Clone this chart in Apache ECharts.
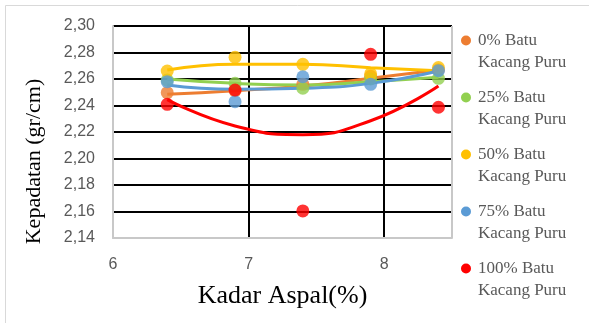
<!DOCTYPE html>
<html>
<head>
<meta charset="utf-8">
<script src="https://cdn.jsdelivr.net/npm/echarts@6/dist/echarts.min.js"></script>
<style>
  html, body { margin: 0; padding: 0; background: #fff; }
  #main { width: 589px; height: 323px; }
</style>
</head>
<body>
<div id="main"></div>
<script>
// kadar aspal (%)
var kadarAspal = [6.4, 6.9, 7.4, 7.9, 8.4];
var namaSeri = ['0% Batu Kacang Puru', '25% Batu Kacang Puru', '50% Batu Kacang Puru',
                '75% Batu Kacang Puru', '100% Batu Kacang Puru'];
var warna = ['#ED7D31', '#92D050', '#FFC000', '#5B9BD5', '#FF0000'];

// data kepadatan (titik)
var data0 = [2.2497, 2.2512, 2.2560, 2.2620, 2.2670];
var data25 = [2.2592, 2.2567, 2.2530, 2.2600, 2.2605];
var data50 = [2.2660, 2.2764, 2.2711, 2.2638, 2.2686];
var data75 = [2.2580, 2.2429, 2.2617, 2.2560, 2.2663];
var data100 = [2.2409, 2.2517, 2.1604, 2.2786, 2.2387];

// garis trend
var trend0 = [2.2484, 2.2512, 2.2547, 2.2605, 2.2668];
var trend25 = [2.2600, 2.2567, 2.2555, 2.2580, 2.2613];
var trend50 = [2.2668, 2.2711, 2.2711, 2.2685, 2.2663];
var trend75 = [2.2555, 2.2522, 2.2530, 2.2567, 2.2660];
var trend100 = [2.2444, 2.2245, 2.2180, 2.2285, 2.2547];

var yTicks = ['2,14', '2,16', '2,18', '2,20', '2,22', '2,24', '2,26', '2,28', '2,30'];

var semuaData = [data0, data25, data50, data75, data100];
var semuaTrend = [trend0, trend25, trend50, trend75, trend100];

function pasangkan(arr) {
  var out = [];
  for (var i = 0; i < arr.length; i++) {
    out.push([kadarAspal[i], arr[i]]);
  }
  return out;
}

var series = [];
for (var k = 0; k < 5; k++) {
  series.push({
    name: namaSeri[k] + ' trend',
    type: 'line',
    smooth: true,
    symbol: 'none',
    silent: true,
    z: 2 + k,
    lineStyle: { color: warna[k], width: 3 },
    data: pasangkan(semuaTrend[k])
  });
}
for (var k = 0; k < 5; k++) {
  series.push({
    name: namaSeri[k],
    type: 'scatter',
    symbol: 'circle',
    symbolSize: 13,
    z: 10 + k,
    itemStyle: { color: warna[k] },
    data: pasangkan(semuaData[k])
  });
}

// titik legenda dibuat lewat rich text supaya sejajar dengan baris pertama
var richLegend = {
  t: { fontFamily: 'Liberation Serif', fontSize: 17, color: '#595959', lineHeight: 22, padding: [0, 0, 0, 7] },
  s: { width: 10, height: 10 }
};
for (var k = 0; k < 5; k++) {
  richLegend['d' + k] = { width: 10, height: 10, borderRadius: 5, backgroundColor: warna[k], verticalAlign: 'middle' };
}

var myChart = echarts.init(document.getElementById('main'));
myChart.setOption({
  animation: false,
  backgroundColor: '#fff',
  grid: { left: 113, right: 137, top: 26, bottom: 85 },
  graphic: [{
    type: 'rect',
    shape: { x: 5.5, y: 5.5, width: 700, height: 400 },
    style: { fill: 'none', stroke: '#d9d9d9', lineWidth: 1 },
    silent: true
  }],
  legend: {
    orient: 'vertical',
    left: 455,
    top: 32,
    padding: 0,
    itemGap: 18,
    itemWidth: 1,
    itemHeight: 1,
    icon: 'circle',
    itemStyle: { opacity: 0 },
    data: namaSeri,
    formatter: function (n) {
      var i = namaSeri.indexOf(n);
      var parts = n.split(' Kacang');
      return '{d' + i + '|}{t|' + parts[0] + '}\n{s|}{t|Kacang' + parts[1] + '}';
    },
    textStyle: { rich: richLegend }
  },
  xAxis: {
    type: 'value',
    min: 6,
    max: 8.5,
    interval: 1,
    name: 'Kadar Aspal(%)',
    nameLocation: 'middle',
    nameGap: 45,
    nameTextStyle: { fontFamily: 'Liberation Serif', fontSize: 26, color: '#000' },
    axisLine: { show: true, lineStyle: { color: '#c8c8c8', width: 2 } },
    axisTick: { show: false },
    axisLabel: { fontFamily: 'Liberation Sans', fontSize: 16, color: '#595959', margin: 19, showMaxLabel: false },
    splitLine: { show: true, lineStyle: { color: ['#c8c8c8', '#000', '#000'], width: 2 } }
  },
  yAxis: {
    type: 'value',
    min: 2.14,
    max: 2.30,
    interval: 0.02,
    name: 'Kepadatan (gr/cm)',
    nameLocation: 'middle',
    nameGap: 68,
    nameTextStyle: { fontFamily: 'Liberation Serif', fontSize: 22, color: '#000', padding: [0, 59, 0, 0] },
    axisLine: { show: true, lineStyle: { color: '#c8c8c8', width: 2 } },
    axisTick: { show: false },
    axisLabel: {
      fontFamily: 'Liberation Sans', fontSize: 16, color: '#595959', margin: 18,
      formatter: function (v) {
        var idx = Math.round((v - 2.14) / 0.02);
        return yTicks[idx];
      }
    },
    splitLine: { show: true, lineStyle: { color: ['#c8c8c8', '#000', '#000', '#000', '#000', '#000', '#000', '#000', '#000'], width: 2 } }
  },
  series: series
});
</script>
</body>
</html>
